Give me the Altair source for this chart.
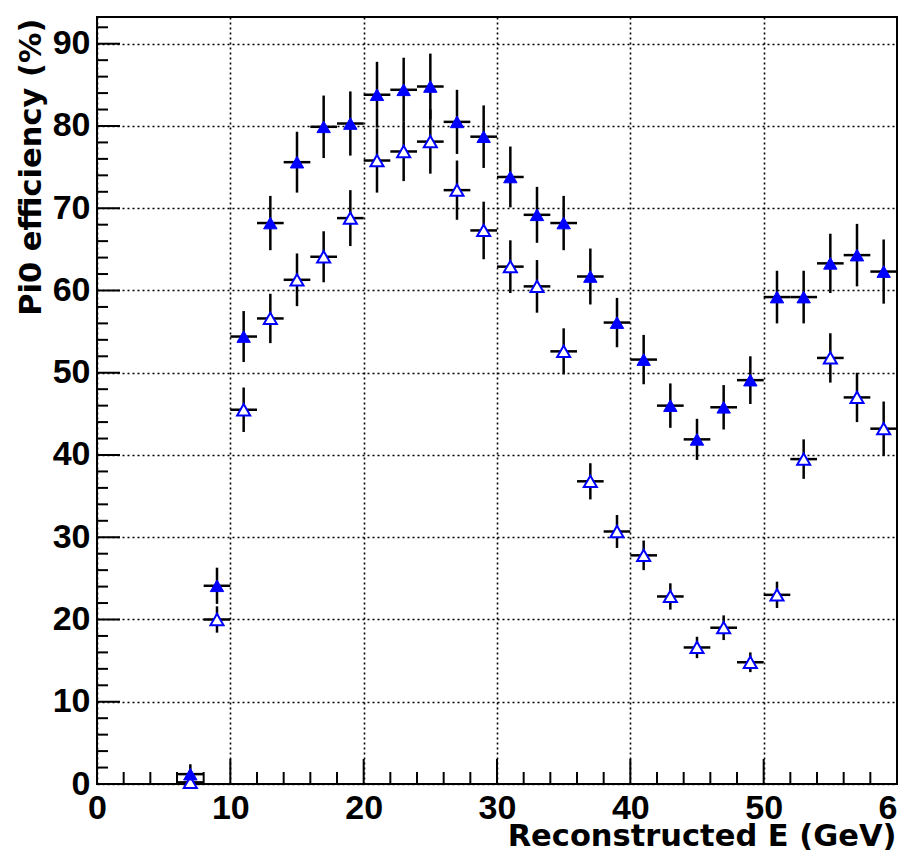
import altair as alt
import pandas as pd

# ---------------- data ----------------
energy = [7, 9, 11, 13, 15, 17, 19, 21, 23, 25, 27, 29, 31, 33, 35, 37, 39,
          41, 43, 45, 47, 49, 51, 53, 55, 57, 59]
bin_half_width = 1.0

eff_filled = [1.2, 24.1, 54.4, 68.2, 75.6, 79.9, 80.3, 83.8, 84.4, 84.8, 80.5,
              78.7, 73.8, 69.2, 68.2, 61.7, 56.1, 51.6, 46.0, 41.9, 45.8, 49.1,
              59.2, 59.2, 63.3, 64.3, 62.3]
err_filled = [1.2, 2.2, 3.1, 3.3, 3.7, 3.8, 3.9, 4.0, 3.9, 4.0, 3.9, 3.8, 3.7,
              3.4, 3.3, 3.4, 3.0, 3.0, 2.7, 2.5, 2.7, 2.9, 3.2, 3.2, 3.6, 3.8, 3.9]

eff_open = [0.2, 20.0, 45.5, 56.6, 61.3, 64.1, 68.8, 75.8, 76.9, 78.1, 72.2,
            67.3, 62.9, 60.5, 52.6, 36.8, 30.7, 27.8, 22.8, 16.6, 19.0, 14.8,
            23.0, 39.5, 51.8, 47.0, 43.2]
err_open = [0.3, 1.6, 2.7, 3.0, 3.2, 3.1, 3.4, 3.9, 3.6, 3.9, 3.6, 3.5, 3.2,
            3.2, 2.8, 2.2, 2.0, 1.8, 1.6, 1.3, 1.5, 1.2, 1.6, 2.4, 3.0, 3.0, 3.3]

x_major = [0, 10, 20, 30, 40, 50, 60]
x_minor = [v for v in range(0, 61, 2) if v % 10 != 0]
y_major = [0, 10, 20, 30, 40, 50, 60, 70, 80, 90]
y_minor = [v for v in range(0, 93, 2) if v % 10 != 0]

x_title = "Reconstructed E (GeV)"
y_title = "Pi0 efficiency (%)"

# ---------------- tables ----------------
rows = []
for e, v, er in zip(energy, eff_filled, err_filled):
    rows.append({"E": e, "eff": v, "err": er, "series": "filled"})
for e, v, er in zip(energy, eff_open, err_open):
    rows.append({"E": e, "eff": v, "err": er, "series": "open"})
df = pd.DataFrame(rows)
df["xlo"] = df["E"] - bin_half_width
df["xhi"] = df["E"] + bin_half_width
df["ylo"] = df["eff"] - df["err"]
df["yhi"] = df["eff"] + df["err"]

W, H = 800, 767
LABEL_FONT = "Liberation Sans"
TITLE_FONT = "DejaVu Sans"
BLUE = "#0000ff"

xs = alt.Scale(domain=[0, 60], nice=False, zero=False)
ys = alt.Scale(domain=[0, 93.25], nice=False, zero=False)

x_axis = alt.Axis(values=x_major, title=x_title, labelPadding=7, labelFlush=False,
                  titleAnchor="end", titleAlign="right", titleX=W - 1, titleY=61,
                  titleBaseline="alphabetic")
y_axis = alt.Axis(values=y_major, title=y_title, labelPadding=7, labelFlush=False,
                  titleAnchor="end", titleAlign="right", titleAngle=270,
                  titleX=-57, titleY=1, titleBaseline="alphabetic")


def X(field):
    return alt.X(field, scale=xs, axis=x_axis)


def Y(field):
    return alt.Y(field, scale=ys, axis=y_axis)


base = alt.Chart(df)

# horizontal error bars (bin width)
hbars = base.mark_rule(color="black", strokeWidth=2.5).encode(
    x=X("xlo:Q"), x2="xhi:Q", y=Y("eff:Q"))
# vertical error bars
vbars = base.mark_rule(color="black", strokeWidth=2.5).encode(
    x=X("E:Q"), y=Y("ylo:Q"), y2="yhi:Q")
pts_filled = base.transform_filter(alt.datum.series == "filled").mark_point(
    shape="triangle-up", size=180, filled=True, fill=BLUE, stroke=BLUE,
    strokeWidth=1, opacity=1
).encode(x=X("E:Q"), y=Y("eff:Q"))
pts_open = base.transform_filter(alt.datum.series == "open").mark_point(
    shape="triangle-up", size=170, filled=True, fill="white", stroke=BLUE,
    strokeWidth=2, opacity=1
).encode(x=X("E:Q"), y=Y("eff:Q"))


# inward ROOT-style ticks
def xticks(vals, length):
    return alt.Chart(pd.DataFrame({"v": vals})).mark_rule(
        color="black", strokeWidth=2).encode(
        x=X("v:Q"), y=alt.value(H), y2=alt.value(H - length))


def yticks(vals, length):
    return alt.Chart(pd.DataFrame({"v": vals})).mark_rule(
        color="black", strokeWidth=2).encode(
        y=Y("v:Q"), x=alt.value(0), x2=alt.value(length))


chart = alt.layer(
    hbars, vbars, pts_open, pts_filled,
    xticks(x_major, 25), xticks(x_minor, 12),
    yticks(y_major, 23), yticks(y_minor, 11),
).properties(
    width=W, height=H,
    autosize=alt.AutoSizeParams(type="none"),
    padding={"left": 89, "top": 9, "right": 1, "bottom": 66},
    background="white",
).configure_view(
    stroke="black", strokeWidth=2
).configure_axis(
    labelFont=LABEL_FONT, labelFontSize=34, labelFontWeight="bold", labelColor="black",
    titleFont=TITLE_FONT, titleFontSize=30.5, titleFontWeight="bold", titleColor="black",
    ticks=False, domain=False,
    grid=True, gridColor="black", gridDash=[2, 3], gridWidth=1.6, gridOpacity=1,
)

chart.save("out.html", embed_options={"renderer": "svg", "actions": False})
